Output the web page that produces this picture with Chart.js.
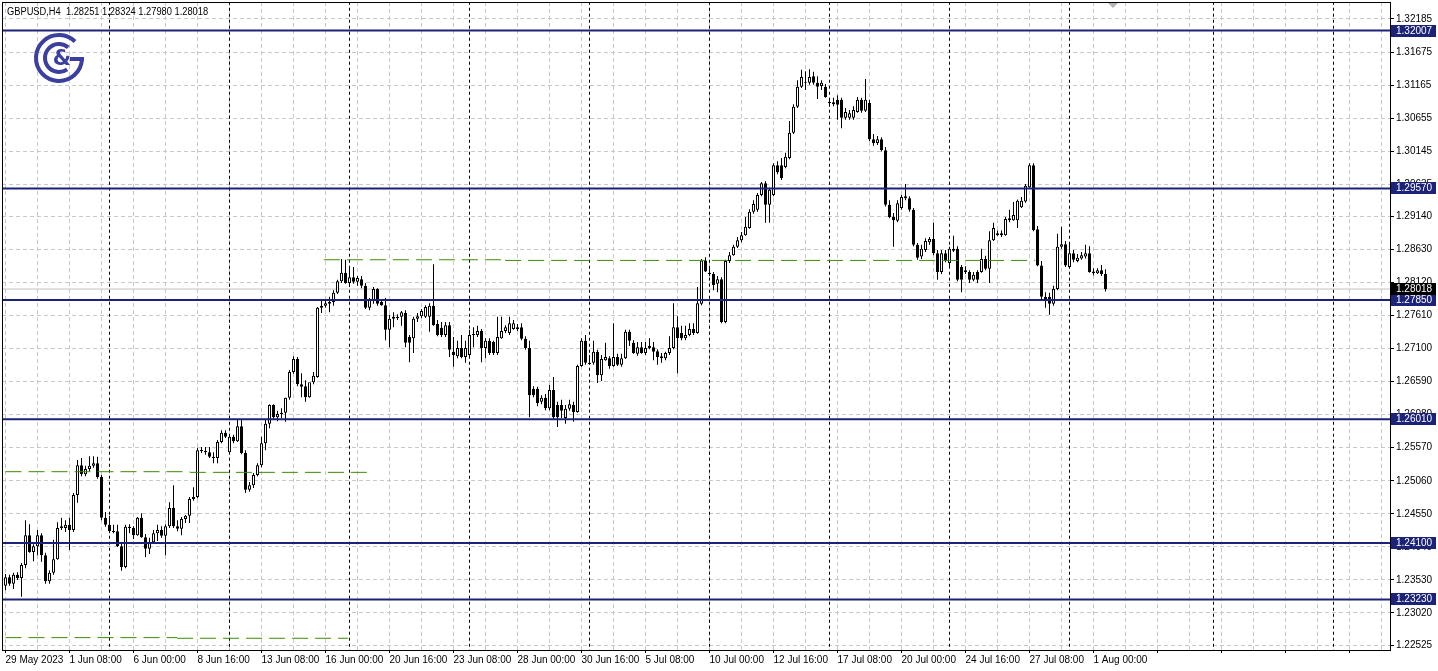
<!DOCTYPE html>
<html>
<head>
<meta charset="utf-8">
<title>GBPUSD H4</title>
<script src="https://cdn.jsdelivr.net/npm/chart.js@4.4.0/dist/chart.umd.min.js"></script>
<style>
  html, body { margin: 0; padding: 0; background: #fff; }
</style>
</head>
<body>
<canvas id="myChart" width="1438" height="671"></canvas>
<script>
// GBPUSD H4, 29 May 16:00 .. 1 Aug 2023, one entry per 4h bar
var symbol = 'GBPUSD,H4'
var lastBar = [1.28251, 1.28324, 1.27980, 1.28018]

var opens = [
  1.2344,1.2357,1.2347,1.2361,1.2356,1.2376,1.2422,1.2396,1.2405,1.2422,
  1.2391,1.2351,1.2364,1.2385,1.2433,1.2433,1.2438,1.2430,1.2484,1.2530,
  1.2516,1.2524,1.2529,1.2533,1.2512,1.2449,1.2438,1.2428,1.2428,1.2405,
  1.2373,1.2435,1.2433,1.2422,1.2449,1.2419,1.2401,1.2411,1.2425,1.2430,
  1.2421,1.2436,1.2464,1.2436,1.2432,1.2447,1.2452,1.2478,1.2481,1.2553,
  1.2552,1.2550,1.2543,1.2541,1.2566,1.2580,1.2550,1.2574,1.2567,1.2590,
  1.2549,1.2492,1.2499,1.2515,1.2530,1.2564,1.2594,1.2623,1.2604,1.2609,
  1.2611,1.2634,1.2674,1.2694,1.2655,1.2652,1.2635,1.2658,1.2666,1.2773,
  1.2776,1.2779,1.2782,1.2796,1.2814,1.2827,1.2811,1.2820,1.2813,1.2817,
  1.2807,1.2773,1.2785,1.2802,1.2782,1.2777,1.2739,1.2756,1.2757,1.2759,
  1.2765,1.2728,1.2726,1.2756,1.2760,1.2759,1.2759,1.2776,1.2748,1.2742,
  1.2731,1.2746,1.2705,1.2698,1.2711,1.2697,1.2700,1.2732,1.2731,1.2737,
  1.2711,1.2722,1.2720,1.2703,1.2726,1.2737,1.2734,1.2740,1.2743,1.2743,
  1.2725,1.2711,1.2648,1.2648,1.2628,1.2634,1.2618,1.2646,1.2623,1.2623,
  1.2603,1.2617,1.2623,1.2612,1.2683,1.2722,1.2688,1.2688,1.2705,1.2669,
  1.2692,1.2695,1.2683,1.2697,1.2685,1.2695,1.2736,1.2719,1.2702,1.2712,
  1.2703,1.2711,1.2712,1.2706,1.2698,1.2695,1.2703,1.2711,1.2743,1.2734,
  1.2726,1.2731,1.2740,1.2734,1.2779,1.2846,1.2827,1.2825,1.2810,1.2817,
  1.2751,1.2845,1.2854,1.2867,1.2877,1.2885,1.2896,1.2921,1.2924,1.2947,
  1.2965,1.2932,1.2947,1.2993,1.2993,1.2990,1.3004,1.3043,1.3083,1.3114,
  1.3121,1.3120,1.3130,1.3120,1.3115,1.3114,1.3090,1.3087,1.3094,1.3094,
  1.3066,1.3066,1.3066,1.3075,1.3094,1.3077,1.3089,1.3033,1.3027,1.3033,
  1.3016,1.2932,1.2913,1.2907,1.2927,1.2942,1.2942,1.2924,1.2870,1.2852,
  1.2862,1.2874,1.2879,1.2857,1.2828,1.2857,1.2842,1.2861,1.2864,1.2836,
  1.2828,1.2828,1.2816,1.2828,1.2828,1.2848,1.2833,1.2877,1.2885,1.2885,
  1.2885,1.2908,1.2908,1.2908,1.2928,1.2937,1.2959,1.2993,1.2894,1.2838,
  1.2790,1.2790,1.2779,1.2802,1.2867,1.2871,1.2836,1.2857,1.2845,1.2849,
  1.2852,1.2857,1.2829,1.2826,1.2831,1.28251
]
var highs = [
  1.2362,1.2361,1.2364,1.2365,1.2379,1.2445,1.2439,1.2408,1.2430,1.2425,
  1.2395,1.2368,1.2415,1.2442,1.2449,1.2445,1.2449,1.2487,1.2538,1.2541,
  1.2529,1.2544,1.2544,1.2543,1.2515,1.2458,1.2452,1.2438,1.2438,1.2410,
  1.2438,1.2439,1.2436,1.2450,1.2456,1.2424,1.2418,1.2430,1.2438,1.2436,
  1.2439,1.2473,1.2499,1.2445,1.2450,1.2453,1.2481,1.2496,1.2557,1.2558,
  1.2558,1.2558,1.2550,1.2569,1.2584,1.2584,1.2577,1.2577,1.2600,1.2600,
  1.2553,1.2504,1.2518,1.2533,1.2574,1.2600,1.2624,1.2624,1.2614,1.2618,
  1.2634,1.2677,1.2698,1.2697,1.2672,1.2661,1.2655,1.2674,1.2774,1.2785,
  1.2785,1.2790,1.2800,1.2816,1.2848,1.2847,1.2834,1.2836,1.2822,1.2822,
  1.2811,1.2788,1.2805,1.2803,1.2786,1.2788,1.2762,1.2766,1.2763,1.2768,
  1.2769,1.2731,1.2759,1.2765,1.2771,1.2777,1.2780,1.2840,1.2754,1.2751,
  1.2751,1.2751,1.2728,1.2722,1.2731,1.2722,1.2739,1.2743,1.2745,1.2740,
  1.2726,1.2726,1.2722,1.2759,1.2759,1.2746,1.2759,1.2754,1.2748,1.2749,
  1.2729,1.2722,1.2652,1.2651,1.2638,1.2640,1.2654,1.2666,1.2628,1.2631,
  1.2623,1.2631,1.2628,1.2685,1.2726,1.2731,1.2700,1.2722,1.2708,1.2700,
  1.2719,1.2698,1.2749,1.2702,1.2702,1.2739,1.2739,1.2723,1.2720,1.2720,
  1.2720,1.2726,1.2720,1.2709,1.2703,1.2705,1.2729,1.2780,1.2760,1.2745,
  1.2745,1.2749,1.2749,1.2805,1.2848,1.2851,1.2834,1.2828,1.2822,1.2820,
  1.2847,1.2859,1.2870,1.2882,1.2890,1.2913,1.2925,1.2939,1.2950,1.2967,
  1.2968,1.2958,1.2996,1.2999,1.3004,1.3012,1.3061,1.3087,1.3124,1.3140,
  1.3138,1.3141,1.3137,1.3130,1.3124,1.3118,1.3097,1.3097,1.3101,1.3097,
  1.3081,1.3078,1.3084,1.3098,1.3097,1.3126,1.3094,1.3041,1.3038,1.3036,
  1.3021,1.2939,1.2919,1.2939,1.2947,1.2964,1.2945,1.2927,1.2873,1.2870,
  1.2880,1.2882,1.2904,1.2862,1.2862,1.2862,1.2867,1.2884,1.2868,1.2839,
  1.2837,1.2831,1.2828,1.2831,1.2864,1.2853,1.2891,1.2904,1.2892,1.2892,
  1.2913,1.2924,1.2936,1.2940,1.2944,1.2964,1.2996,1.2996,1.2899,1.2845,
  1.2797,1.2796,1.2807,1.2887,1.2898,1.2876,1.2873,1.2862,1.2856,1.2859,
  1.2870,1.2868,1.2834,1.2834,1.2839,1.28324
]
var lows = [
  1.2337,1.2344,1.2339,1.2353,1.2327,1.2371,1.2395,1.2382,1.2391,1.2381,
  1.2347,1.2347,1.2361,1.2384,1.2430,1.2427,1.2399,1.2427,1.2472,1.2513,
  1.2513,1.2521,1.2526,1.2509,1.2445,1.2435,1.2425,1.2425,1.2404,1.2367,
  1.2371,1.2425,1.2416,1.2421,1.2418,1.2388,1.2393,1.2410,1.2413,1.2418,
  1.2391,1.2433,1.2433,1.2428,1.2422,1.2441,1.2441,1.2475,1.2479,1.2549,
  1.2546,1.2541,1.2533,1.2533,1.2564,1.2572,1.2549,1.2564,1.2566,1.2547,
  1.2487,1.2489,1.2495,1.2513,1.2527,1.2553,1.2587,1.2600,1.2598,1.2603,
  1.2597,1.2631,1.2671,1.2652,1.2635,1.2628,1.2634,1.2655,1.2665,1.2765,
  1.2773,1.2766,1.2776,1.2794,1.2811,1.2810,1.2805,1.2810,1.2807,1.2803,
  1.2771,1.2769,1.2779,1.2776,1.2776,1.2723,1.2712,1.2743,1.2754,1.2745,
  1.2712,1.2689,1.2703,1.2751,1.2757,1.2757,1.2736,1.2745,1.2729,1.2728,
  1.2728,1.2697,1.2682,1.2695,1.2695,1.2688,1.2698,1.2712,1.2728,1.2689,
  1.2695,1.2700,1.2700,1.2700,1.2725,1.2734,1.2731,1.2739,1.2737,1.2723,
  1.2708,1.2604,1.2635,1.2621,1.2624,1.2615,1.2615,1.2600,1.2589,1.2603,
  1.2594,1.2614,1.2597,1.2611,1.2682,1.2685,1.2685,1.2685,1.2657,1.2660,
  1.2691,1.2679,1.2682,1.2683,1.2682,1.2694,1.2714,1.2702,1.2699,1.2702,
  1.2700,1.2709,1.2692,1.2685,1.2688,1.2692,1.2700,1.2709,1.2672,1.2723,
  1.2723,1.2729,1.2731,1.2733,1.2777,1.2828,1.2822,1.2800,1.2797,1.2749,
  1.2749,1.2842,1.2853,1.2865,1.2874,1.2884,1.2895,1.2918,1.2921,1.2945,
  1.2904,1.2904,1.2945,1.2979,1.2970,1.2988,1.3002,1.3041,1.3081,1.3112,
  1.3109,1.3117,1.3117,1.3095,1.3109,1.3097,1.3084,1.3084,1.3063,1.3050,
  1.3063,1.3063,1.3063,1.3074,1.3074,1.3075,1.3030,1.3023,1.3024,1.3014,
  1.2929,1.2911,1.2867,1.2905,1.2924,1.2939,1.2921,1.2868,1.2847,1.2848,
  1.2859,1.2870,1.2854,1.2816,1.2825,1.2843,1.2837,1.2859,1.2814,1.2797,
  1.2825,1.2811,1.2814,1.2811,1.2827,1.2831,1.2811,1.2876,1.2884,1.2882,
  1.2884,1.2905,1.2907,1.2896,1.2927,1.2935,1.2958,1.2891,1.2837,1.2786,
  1.2773,1.2762,1.2776,1.2800,1.2864,1.2836,1.2834,1.2843,1.2843,1.2847,
  1.2849,1.2827,1.2823,1.2825,1.2822,1.27980
]
var closes = [
  1.2357,1.2347,1.2361,1.2356,1.2376,1.2422,1.2396,1.2405,1.2422,1.2391,
  1.2351,1.2364,1.2385,1.2433,1.2436,1.2438,1.2430,1.2484,1.2530,1.2516,
  1.2524,1.2529,1.2533,1.2512,1.2449,1.2438,1.2428,1.2427,1.2405,1.2373,
  1.2435,1.2433,1.2422,1.2449,1.2419,1.2401,1.2411,1.2425,1.2430,1.2421,
  1.2436,1.2464,1.2436,1.2432,1.2447,1.2452,1.2478,1.2481,1.2553,1.2552,
  1.2550,1.2543,1.2541,1.2566,1.2580,1.2574,1.2574,1.2567,1.2590,1.2549,
  1.2492,1.2499,1.2515,1.2530,1.2564,1.2594,1.2623,1.2604,1.2609,1.2611,
  1.2634,1.2674,1.2694,1.2655,1.2651,1.2635,1.2658,1.2668,1.2773,1.2776,
  1.2780,1.2782,1.2796,1.2814,1.2827,1.2811,1.2820,1.2813,1.2819,1.2807,
  1.2773,1.2785,1.2802,1.2779,1.2777,1.2739,1.2756,1.2759,1.2759,1.2766,
  1.2719,1.2719,1.2756,1.2760,1.2768,1.2774,1.2776,1.2746,1.2731,1.2731,
  1.2746,1.2708,1.2700,1.2711,1.2697,1.2711,1.2731,1.2731,1.2737,1.2711,
  1.2722,1.2703,1.2703,1.2728,1.2737,1.2743,1.2749,1.2749,1.2740,1.2725,
  1.2711,1.2638,1.2638,1.2626,1.2634,1.2618,1.2646,1.2604,1.2604,1.2614,
  1.2617,1.2624,1.2612,1.2683,1.2722,1.2688,1.2686,1.2705,1.2669,1.2694,
  1.2697,1.2683,1.2697,1.2685,1.2695,1.2736,1.2722,1.2703,1.2712,1.2703,
  1.2711,1.2714,1.2705,1.2697,1.2695,1.2703,1.2711,1.2743,1.2726,1.2726,
  1.2731,1.2740,1.2734,1.2780,1.2846,1.2829,1.2825,1.2808,1.2817,1.2751,
  1.2845,1.2854,1.2867,1.2877,1.2885,1.2898,1.2921,1.2933,1.2947,1.2965,
  1.2932,1.2955,1.2993,1.2982,1.2973,1.3006,1.3043,1.3083,1.3114,1.3129,
  1.3120,1.3129,1.3120,1.3114,1.3120,1.3098,1.3089,1.3090,1.3086,1.3066,
  1.3075,1.3073,1.3078,1.3094,1.3077,1.3094,1.3033,1.3027,1.3033,1.3016,
  1.2932,1.2913,1.2908,1.2934,1.2944,1.2945,1.2924,1.2870,1.2850,1.2864,
  1.2876,1.2879,1.2857,1.2828,1.2857,1.2845,1.2864,1.2864,1.2816,1.2816,
  1.2831,1.2816,1.2824,1.2816,1.2848,1.2833,1.2877,1.2896,1.2888,1.2888,
  1.2910,1.2911,1.2916,1.2938,1.2938,1.2961,1.2993,1.2893,1.2838,1.2790,
  1.2783,1.2779,1.2802,1.2867,1.2871,1.2838,1.2857,1.2847,1.2850,1.2854,
  1.2857,1.2828,1.2826,1.2831,1.2825,1.28018
]

// horizontal support / resistance levels
var levels = [1.32007, 1.29570, 1.27850, 1.26010, 1.24100, 1.23230]
// green dashed segments: price, first bar, last bar
var greenPrice = [1.2847, 1.2846, 1.2520, 1.2519, 1.2264, 1.2263]
var greenFrom = [79.6, 124.9, 0, 46.1, 0, 42.9]
var greenTo = [124.9, 257.4, 46.1, 91.6, 42.9, 85.6]
// bars where a new week starts
var weekStarts = [26, 56, 86, 116, 146, 176, 206, 236, 266, 302, 332]

var yTicks = [1.32185, 1.31675, 1.31165, 1.30655, 1.30145, 1.29635, 1.29140, 1.28630, 1.28120, 1.27610,
  1.27100, 1.26590, 1.26080, 1.25570, 1.25060, 1.24550, 1.24040, 1.23530, 1.23020, 1.22525]
var xLabels = ['29 May 2023', '1 Jun 08:00', '6 Jun 00:00', '8 Jun 16:00', '13 Jun 08:00', '16 Jun 00:00',
  '20 Jun 16:00', '23 Jun 08:00', '28 Jun 00:00', '30 Jun 16:00', '5 Jul 08:00', '10 Jul 00:00',
  '12 Jul 16:00', '17 Jul 08:00', '20 Jul 00:00', '24 Jul 16:00', '27 Jul 08:00', '1 Aug 00:00']

var yMin = 1.22449, yMax = 1.32447
var xMin = -0.875, xMax = 346.125

var navy = '#1c2278'

var wickData = [], bodyData = [], bodyColors = []
for (var i = 0; i < opens.length; i++) {
  wickData.push({x: i, y: [lows[i], highs[i]]})
  bodyData.push({x: i, y: [opens[i], closes[i]]})
  bodyColors.push(closes[i] >= opens[i] ? '#ffffff' : '#000000')
}

var datasets = []

// last price line, behind candles
datasets.push({type: 'line', data: [{x: -5, y: lastBar[3]}, {x: 400, y: lastBar[3]}],
  borderColor: '#c0c0c0', borderWidth: 1, pointRadius: 0, order: 6})

weekStarts.forEach(function(w) {
  datasets.push({type: 'line', data: [{x: w, y: 1.2}, {x: w, y: 1.4}],
    borderColor: '#000', borderWidth: 1, borderDash: [3, 3], pointRadius: 0, order: 7})
})

datasets.push({type: 'bar', data: wickData, backgroundColor: '#000', borderWidth: 0,
  barThickness: 1, grouped: false, inflateAmount: 0, order: 4})
datasets.push({type: 'bar', data: bodyData, backgroundColor: bodyColors, borderColor: '#000',
  borderWidth: 1, borderSkipped: false, barThickness: 3, grouped: false, inflateAmount: 0,
  minBarLength: 1, order: 3})

greenPrice.forEach(function(p, k) {
  datasets.push({type: 'line', data: [{x: greenFrom[k], y: p}, {x: greenTo[k], y: p}],
    borderColor: '#3c8c00', borderWidth: 1, borderDash: [16, 7], pointRadius: 0, order: 2})
})

levels.forEach(function(v) {
  datasets.push({type: 'line', data: [{x: -5, y: v}, {x: 400, y: v}],
    borderColor: navy, borderWidth: 2, pointRadius: 0, order: 1})
})

var decor = {
  id: 'decor',
  afterDraw: function(chart) {
    var ctx = chart.ctx, a = chart.chartArea, ys = chart.scales.y
    ctx.save()

    ctx.strokeStyle = '#000'
    ctx.lineWidth = 1
    ctx.strokeRect(a.left + 0.5, a.top + 0.5, a.right - a.left, a.bottom - a.top)

    // price boxes on the axis
    ctx.font = '10px "Liberation Sans", Arial, sans-serif'
    ctx.textBaseline = 'middle'
    ctx.textAlign = 'left'
    levels.forEach(function(v) {
      var py = Math.round(ys.getPixelForValue(v))
      ctx.fillStyle = navy
      ctx.fillRect(a.right + 1, py - 6, 45, 12)
      ctx.fillStyle = '#fff'
      ctx.fillText(v.toFixed(5), a.right + 6, py)
    })
    var cy = Math.round(ys.getPixelForValue(lastBar[3]))
    ctx.fillStyle = '#000'
    ctx.fillRect(a.right + 1, cy - 6, 45, 12)
    ctx.fillStyle = '#fff'
    ctx.fillText(lastBar[3].toFixed(5), a.right + 6, cy)

    // title, squeezed a little to match the terminal font
    ctx.fillStyle = '#000'
    ctx.save()
    ctx.translate(7, 12)
    ctx.scale(0.93, 1)
    ctx.fillText(symbol + '  ' + lastBar.map(function(v) { return v.toFixed(5) }).join(' '), 0, 0)
    ctx.restore()

    // shift marker
    ctx.fillStyle = '#b4b4b4'
    ctx.beginPath()
    ctx.moveTo(1108, 3); ctx.lineTo(1118, 3); ctx.lineTo(1113, 8)
    ctx.fill()

    // logo
    var lx = 59, ly = 58
    ctx.strokeStyle = '#3a3fa0'
    ctx.lineWidth = 4
    ctx.beginPath()
    ctx.arc(lx, ly, 23, 0.05, -0.8, false)
    ctx.stroke()
    ctx.beginPath()
    ctx.moveTo(lx + 25, ly + 1)
    ctx.lineTo(lx + 11, ly + 1)
    ctx.stroke()
    ctx.beginPath()
    ctx.arc(lx, ly, 14, -0.85, 0.95, true)
    ctx.stroke()
    ctx.fillStyle = '#3a3fa0'
    ctx.font = 'bold 21px "DejaVu Sans", sans-serif'
    ctx.textAlign = 'center'
    ctx.fillText('&', lx + 3, ly + 2)

    ctx.restore()
  }
}

Chart.defaults.font.family = '"Liberation Sans", Arial, sans-serif'
Chart.defaults.font.size = 10
Chart.defaults.color = '#000'

var myChart = new Chart(document.getElementById('myChart').getContext('2d'), {
  type: 'bar',
  data: {datasets: datasets},
  options: {
    responsive: false,
    animation: false,
    events: [],
    layout: {padding: {left: 2, top: 2, right: 0, bottom: 0}},
    plugins: {legend: {display: false}, tooltip: {enabled: false}},
    scales: {
      x: {
        type: 'linear',
        min: xMin,
        max: xMax,
        offset: false,
        afterBuildTicks: function(s) {
          var t = []
          for (var v = 0; v <= 344; v += 8) t.push({value: v})
          s.ticks = t
        },
        afterFit: function(s) { s.height = 21; s.paddingLeft = 0; s.paddingRight = 0 },
        ticks: {
          autoSkip: false, maxRotation: 0, minRotation: 0, align: 'start', padding: 1,
          callback: function(v) { return v % 16 === 0 ? (xLabels[v / 16] || '') : '' }
        },
        grid: {
          offset: false, color: '#c8c8c8', tickLength: 3,
          tickColor: function(c) { return c.index % 2 === 0 ? '#000' : 'rgba(0,0,0,0)' }
        },
        border: {display: false, dash: [4, 3]}
      },
      y: {
        type: 'linear',
        position: 'right',
        min: yMin,
        max: yMax,
        beginAtZero: false,
        afterBuildTicks: function(s) {
          s.ticks = yTicks.map(function(v) { return {value: v} })
        },
        afterFit: function(s) { s.width = 48; s.paddingTop = 0; s.paddingBottom = 0 },
        ticks: {
          autoSkip: false, padding: 2,
          callback: function(v) { return v.toFixed(5) }
        },
        grid: {color: '#c8c8c8', tickColor: '#000', tickLength: 4},
        border: {display: false, dash: [4, 3]}
      }
    }
  },
  plugins: [decor]
})
</script>
</body>
</html>
